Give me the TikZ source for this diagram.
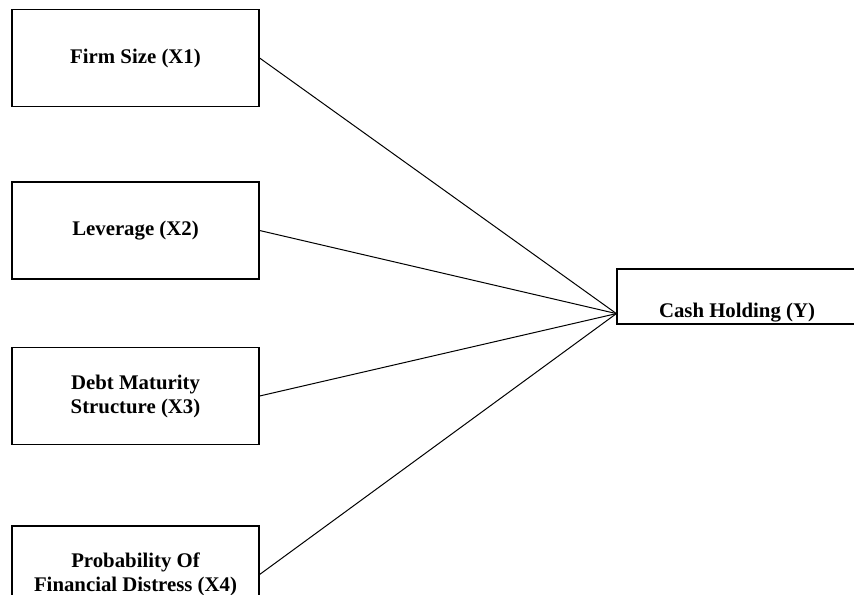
\documentclass[tikz,border=0pt]{standalone}
\usepackage{fontspec}
\setmainfont{Liberation Serif}
\usetikzlibrary{positioning, calc}

\begin{document}
\begin{tikzpicture}[
    x=0.5pt, y=-0.5pt,
    var/.style={rectangle, draw, line width=0.6pt, minimum width=123.5pt, minimum height=48.5pt,
                align=center, font=\fontsize{10.4}{12}\selectfont\bfseries, inner sep=0pt},
    lbl/.style={font=\fontsize{10.4}{12}\selectfont\bfseries, inner sep=0pt},
    link/.style={line width=0.5pt}
]
    \useasboundingbox (0,0) rectangle (854,594);

    % Independent variables (left column)
    \node[var] (X1) at (135.5,58)    {Firm Size (X1)};
    \node[var] (X2) at (135.5,230.5) {Leverage (X2)};
    \node[var] (X3) at (135.5,396)   {Debt Maturity\\Structure (X3)};
    \node[var] (X4) at (135.5,574.5) {Probability Of\\Financial Distress (X4)};

    % Dependent variable (right, cut off by the border)
    \node[var, minimum width=120pt, minimum height=27.5pt] (Y) at (737,296.5) {};
    \node[lbl] (Ylbl) at (737,313) {Cash Holding (Y)};
    \coordinate (hub) at ([yshift=5.5pt]Y.south west);

    % Links into the hub point
    \draw[link] (X1.east) -- (hub);
    \draw[link] (X2.east) -- (hub);
    \draw[link] (X3.east) -- (hub);
    \draw[link] (X4.east) -- (hub);
\end{tikzpicture}
\end{document}
